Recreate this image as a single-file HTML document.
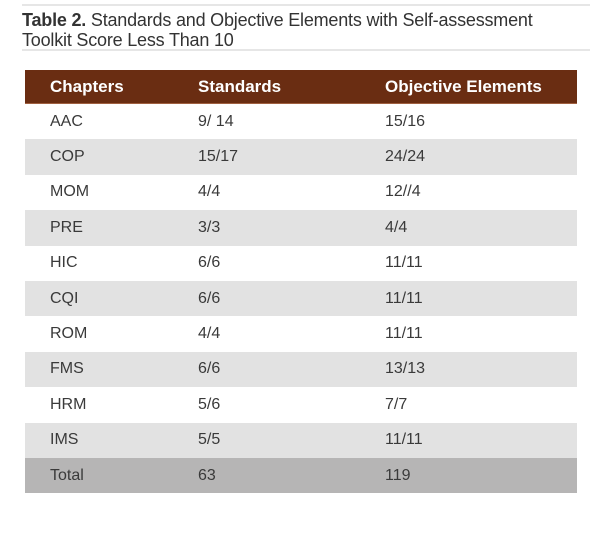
<!DOCTYPE html>
<html><head><meta charset="utf-8"><style>
body{margin:0;width:616px;height:541px;background:#fff;font-family:"Liberation Sans",sans-serif;position:relative;overflow:hidden}
.rule{position:absolute;left:22px;width:568px;height:2px;background:#e6e6e6}
.title{position:absolute;left:22px;top:10px;font-size:18px;line-height:20px;color:#333;letter-spacing:-0.2px}
table{position:absolute;left:25px;top:70px;width:552px;border-collapse:collapse;font-size:16px;color:#3a3a3a}
td,th{padding:0;text-align:left;font-weight:normal}
th{background:#6a2d12;color:#fff;font-weight:bold;font-size:17px;height:33px;border-bottom:1px solid #a06040}
tr td{height:35.4px}
tr.g td{background:#e2e2e2}
tr.t td{background:#b6b5b5}
.c1{padding-left:25px;width:148px}
.c2{width:187px}
</style></head><body>
<div class="rule" style="top:4px"></div>
<div class="title"><b>Table 2.</b> Standards and Objective Elements with Self-assessment<br>Toolkit Score Less Than 10</div>
<div class="rule" style="top:49px"></div>
<table>
<tr><th class="c1">Chapters</th><th class="c2">Standards</th><th>Objective Elements</th></tr>
<tr><td class="c1">AAC</td><td>9/ 14</td><td>15/16</td></tr>
<tr class="g"><td class="c1">COP</td><td>15/17</td><td>24/24</td></tr>
<tr><td class="c1">MOM</td><td>4/4</td><td>12//4</td></tr>
<tr class="g"><td class="c1">PRE</td><td>3/3</td><td>4/4</td></tr>
<tr><td class="c1">HIC</td><td>6/6</td><td>11/11</td></tr>
<tr class="g"><td class="c1">CQI</td><td>6/6</td><td>11/11</td></tr>
<tr><td class="c1">ROM</td><td>4/4</td><td>11/11</td></tr>
<tr class="g"><td class="c1">FMS</td><td>6/6</td><td>13/13</td></tr>
<tr><td class="c1">HRM</td><td>5/6</td><td>7/7</td></tr>
<tr class="g"><td class="c1">IMS</td><td>5/5</td><td>11/11</td></tr>
<tr class="t"><td class="c1">Total</td><td>63</td><td>119</td></tr>
</table>
</body></html>
